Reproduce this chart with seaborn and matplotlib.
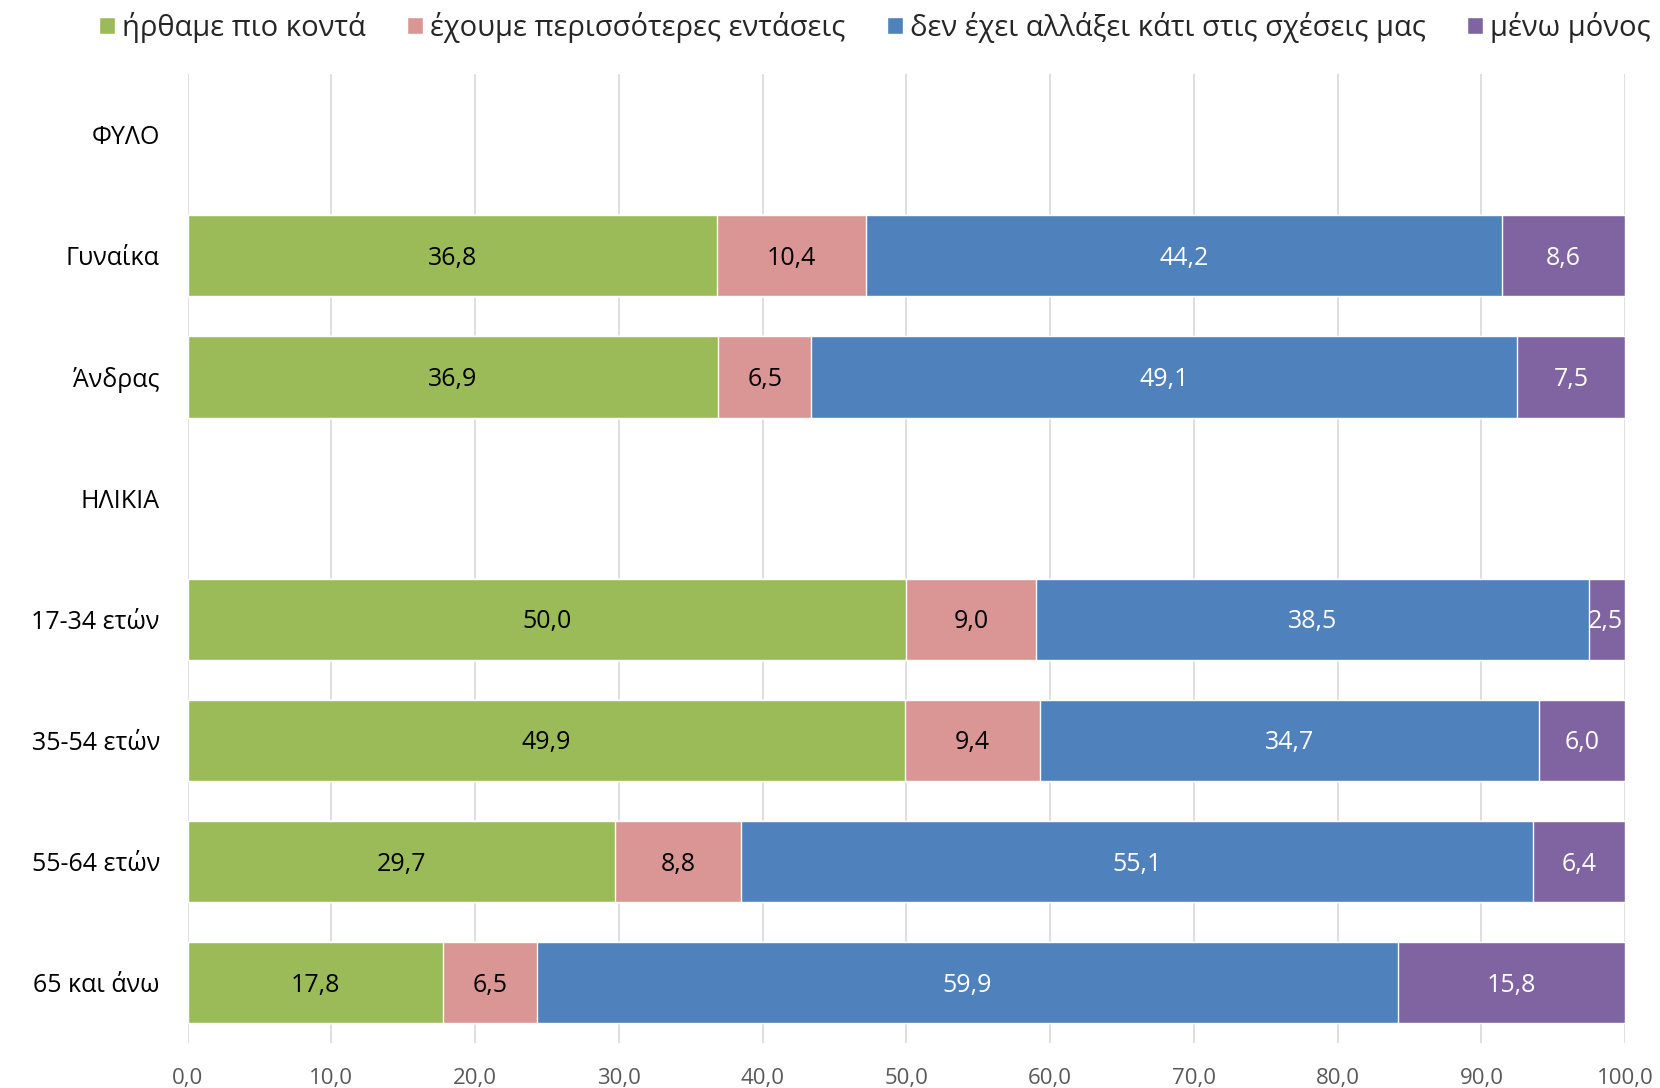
import numpy as np
import pandas as pd
import seaborn as sns
import matplotlib.pyplot as plt

# Data
groups = ["ΦΥΛΟ", "Γυναίκα", "Άνδρας", "ΗΛΙΚΙΑ",
          "17-34 ετών", "35-54 ετών", "55-64 ετών", "65 και άνω"]
data_groups = ["Γυναίκα", "Άνδρας", "17-34 ετών", "35-54 ετών", "55-64 ετών", "65 και άνω"]
closer = [36.8, 36.9, 50.0, 49.9, 29.7, 17.8]
tensions = [10.4, 6.5, 9.0, 9.4, 8.8, 6.5]
no_change = [44.2, 49.1, 38.5, 34.7, 55.1, 59.9]
alone = [8.6, 7.5, 2.5, 6.0, 6.4, 15.8]

series_names = ["ήρθαμε πιο κοντά", "έχουμε περισσότερες εντάσεις",
                "δεν έχει αλλάξει κάτι στις σχέσεις μας", "μένω μόνος"]
colors = ["#9BBB59", "#D99694", "#4F81BD", "#8064A2"]
label_colors = ["#000000", "#000000", "#FFFFFF", "#FFFFFF"]

sns.set_style("white")
plt.rcParams['font.family'] = ['Open Sans', 'DejaVu Sans']

df = pd.DataFrame({"group": data_groups, series_names[0]: closer, series_names[1]: tensions,
                   series_names[2]: no_change, series_names[3]: alone})
vals = df[series_names].to_numpy()
cums = np.cumsum(vals, axis=1)

fig = plt.figure(figsize=(16.6, 10.88), dpi=100)
ax = fig.add_axes([0.113, 0.041, 0.866, 0.891])

# stacked bars: draw cumulative totals from the largest down
for i in range(3, -1, -1):
    plot_df = pd.DataFrame({"group": data_groups, "value": cums[:, i]})
    sns.barplot(data=plot_df, x="value", y="group", order=groups, color=colors[i],
                width=0.67, saturation=1, ax=ax, label=series_names[i], orient="h")

# segment labels
for r, g in enumerate(data_groups):
    ypos = groups.index(g)
    for i in range(4):
        start = cums[r, i] - vals[r, i]
        xc = start + vals[r, i] / 2
        txt = f"{vals[r, i]:.1f}".replace(".", ",")
        if g == "17-34 ετών" and i == 3:
            xc = start + vals[r, i] * 0.45
        ax.text(xc, ypos + 0.02, txt, ha="center", va="center", fontsize=18, color=label_colors[i])

ax.set_xlim(0, 100)
ax.set_ylim(7.5, -0.5)
ax.set_xticks(np.arange(0, 101, 10))
ax.set_xticklabels([f"{v:.1f}".replace(".", ",") for v in np.arange(0, 101, 10)],
                   fontsize=16, color="#595959")
ax.tick_params(axis="y", labelsize=18, length=0, pad=20, labelcolor="#000000")
ax.tick_params(axis="x", length=6, color="#D9D9D9", pad=12)
ax.set_xlabel("")
ax.set_ylabel("")
ax.grid(axis="x", color="#D9D9D9", linewidth=1.2)
ax.set_axisbelow(True)
for s in ax.spines.values():
    s.set_visible(False)

handles, labels = ax.get_legend_handles_labels()
order = [labels.index(n) for n in series_names]
fig.legend([handles[k] for k in order], [labels[k] for k in order],
           loc="center", bbox_to_anchor=(0.527, 0.975), ncol=4, frameon=False,
           fontsize=21, handlelength=0.55, handleheight=0.55, handletextpad=0.25,
           columnspacing=1.4)
if ax.get_legend() is not None:
    ax.get_legend().remove()

plt.savefig("out.png", dpi=100)
